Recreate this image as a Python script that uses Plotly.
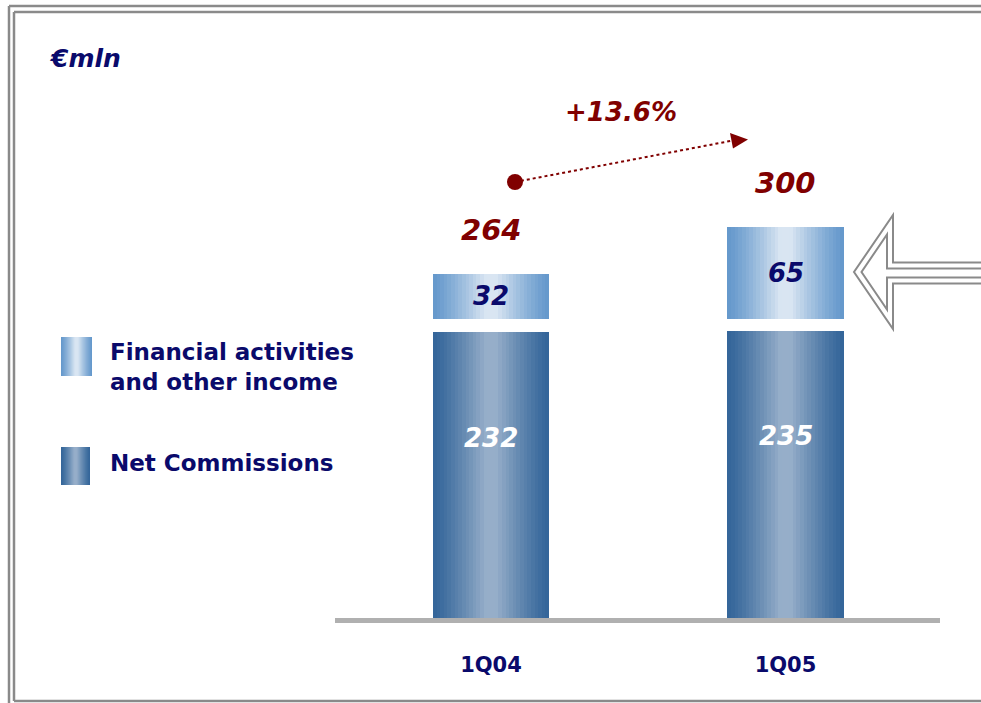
import plotly.graph_objects as go

# ---- data ----
categories = ["1Q04", "1Q05"]
net_commissions = [232, 235]
financial_other = [32, 65]
series_names = ["Financial activities<br>and other income", "Net Commissions"]
unit_label = "€mln"

totals = [a + b for a, b in zip(net_commissions, financial_other)]
growth = (totals[1] / totals[0] - 1) * 100

W, H = 981, 703
def px(x):
    return x / W
def py(y):
    return 1 - y / H

NAVY = "#0a0a6b"
DRED = "#800000"

NET_EDGE, NET_CENTER = (53, 102, 154), (150, 174, 201)
FIN_EDGE, FIN_CENTER = (102, 153, 204), (217, 229, 242)

def mix(c0, c1, t):
    return "rgb(%d,%d,%d)" % tuple(round(a + (b - a) * t) for a, b in zip(c0, c1))

N = 16
BAR_W = 0.394

def prof(k):
    t = k / (N - 1)
    return min(1.0, t ** 1.2 * 1.08)

fig = go.Figure()
for k in range(N):
    w = BAR_W * (1 - k / N)
    fig.add_trace(go.Bar(x=categories, y=net_commissions, width=w, yaxis="y", xaxis="x",
                         marker=dict(color=mix(NET_EDGE, NET_CENTER, prof(k)), line=dict(width=0), opacity=1),
                         showlegend=False, hoverinfo="skip"))
    fig.add_trace(go.Bar(x=categories, y=financial_other, width=w, yaxis="y2", xaxis="x",
                         marker=dict(color=mix(FIN_EDGE, FIN_CENTER, prof(k)), line=dict(width=0), opacity=1),
                         showlegend=False, hoverinfo="skip"))

shapes = []
# legend swatches with gradient
def swatch(x0, y0, x1, y1, c0, c1):
    half = (x1 - x0) / 2
    for k in range(N):
        d = half * k / N
        shapes.append(dict(type="rect", xref="paper", yref="paper",
                           x0=px(x0 + d), x1=px(x1 - d), y0=py(y1), y1=py(y0),
                           line=dict(width=0), fillcolor=mix(c0, c1, prof(k)), layer="above"))
swatch(61, 337, 92, 376, FIN_EDGE, FIN_CENTER)
swatch(61, 447, 90, 485, NET_EDGE, NET_CENTER)

# frame
FR = "#8a8a8a"
for (x0, y0, x1, y1) in [(9, 6, 9, 710), (9, 6, 990, 6), (14, 12, 14, 701), (14, 12, 990, 12), (14, 701, 990, 701)]:
    shapes.append(dict(type="line", xref="paper", yref="paper", x0=px(x0), y0=py(y0), x1=px(x1), y1=py(y1),
                       line=dict(color=FR, width=2.5)))

# hollow arrow on the right
def path(pts):
    return "M " + " L ".join("%f,%f" % (px(x), py(y)) for x, y in pts)
outer = [(990, 262.5), (893, 262.5), (893, 215), (854, 272), (893, 329), (893, 283.5), (990, 283.5)]
inner = [(990, 268.5), (887, 268.5), (887, 234.4), (861.5, 272), (887, 309.6), (887, 277.5), (990, 277.5)]
for p in (outer, inner):
    shapes.append(dict(type="path", xref="paper", yref="paper", path=path(p),
                       line=dict(color="#8a8a8a", width=2)))

# growth arrow
shapes.append(dict(type="line", xref="paper", yref="paper", x0=px(515), y0=py(182), x1=px(733), y1=py(140.5),
                   line=dict(color=DRED, width=2, dash="dot")))
shapes.append(dict(type="circle", xref="paper", yref="paper", x0=px(507), x1=px(523), y0=py(190), y1=py(174),
                   line=dict(width=0), fillcolor=DRED))
shapes.append(dict(type="path", xref="paper", yref="paper",
                   path=path([(730, 133), (748, 139.5), (733, 148.5)]) + " Z",
                   line=dict(width=0), fillcolor=DRED))

FONT = "DejaVu Sans"
ann = []
ann.append(dict(text="<b><i>%s</i></b>" % unit_label, xref="paper", yref="paper", x=px(47), y=py(58),
                xanchor="left", yanchor="middle", showarrow=False, font=dict(family=FONT, size=25, color=NAVY)))
ann.append(dict(text="<b><i>+%.1f%%</i></b>" % growth, xref="paper", yref="paper", x=px(621), y=py(112),
                xanchor="center", yanchor="middle", showarrow=False, font=dict(family=FONT, size=26, color=DRED)))
for c, n, f, t in zip(categories, net_commissions, financial_other, totals):
    ann.append(dict(text="<b><i>%d</i></b>" % n, x=c, y=n / 2, xref="x", yref="y", yshift=37,
                    showarrow=False, font=dict(family=FONT, size=26, color="white")))
    ann.append(dict(text="<b><i>%d</i></b>" % f, x=c, y=f / 2, xref="x", yref="y2",
                    showarrow=False, font=dict(family=FONT, size=26, color=NAVY)))
    ann.append(dict(text="<b><i>%d</i></b>" % t, x=c, y=f, xref="x", yref="y2", yshift=44,
                    showarrow=False, font=dict(family=FONT, size=29, color=DRED)))
ann.append(dict(text="<b>%s</b>" % series_names[0], xref="paper", yref="paper", x=px(108), y=py(366.5),
                xanchor="left", yanchor="middle", align="left", showarrow=False,
                font=dict(family=FONT, size=23, color=NAVY)))
ann.append(dict(text="<b>%s</b>" % series_names[1], xref="paper", yref="paper", x=px(108), y=py(463),
                xanchor="left", yanchor="middle", align="left", showarrow=False,
                font=dict(family=FONT, size=23, color=NAVY)))

fig.update_layout(
    width=W, height=H, margin=dict(l=0, r=0, t=0, b=0),
    paper_bgcolor="white", plot_bgcolor="rgba(0,0,0,0)",
    barmode="overlay", bargap=0,
    xaxis=dict(domain=[px(335), px(940)], type="category", categoryarray=categories,
               tickvals=categories, ticktext=["<b>%s</b>" % c for c in categories],
               range=[-0.5297, 1.5246], showline=True, linecolor="#b0b0b0", linewidth=5,
               ticks="", showgrid=False, zeroline=False, anchor="y", ticklabelstandoff=24,
               tickfont=dict(family=FONT, size=21, color=NAVY)),
    yaxis=dict(domain=[py(618), py(331)], range=[0, 233], visible=False, fixedrange=True),
    yaxis2=dict(domain=[py(319), py(227)], range=[0, 65], visible=False, anchor="x"),
    shapes=shapes, annotations=ann, showlegend=False,
)

fig.write_html("out.html", config={"displayModeBar": False},
               post_script="document.body.style.margin='0';document.body.style.overflow='hidden';")
